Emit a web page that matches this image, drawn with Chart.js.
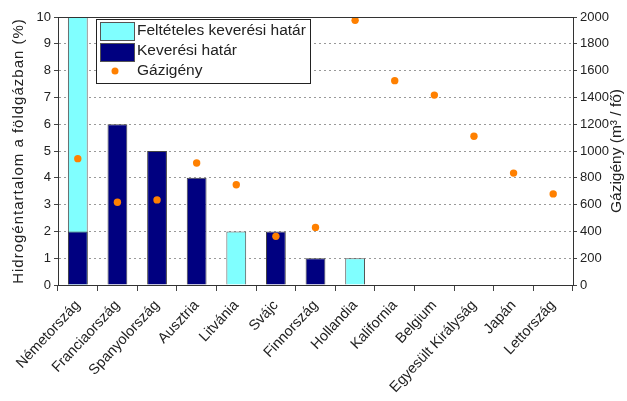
<!DOCTYPE html>
<html>
<head>
<meta charset="utf-8">
<script src="https://cdn.jsdelivr.net/npm/chart.js@4.4.0/dist/chart.umd.min.js"></script>
<style>
body { margin: 0; background: #fff; }
</style>
</head>
<body>
<canvas id="grafik" width="627" height="401"></canvas>
<script>
const orszagok = ['Németország', 'Franciaország', 'Spanyolország', 'Ausztria', 'Litvánia', 'Svájc',
    'Finnország', 'Hollandia', 'Kalifornia', 'Belgium', 'Egyesült Királyság', 'Japán', 'Lettország'];
const feltetelesHatar = [10, null, null, null, 2, null, null, 1, null, null, null, null, null]; // %
const keveresiHatar = [2, 6, 5, 4, null, 2, 1, null, null, null, null, null, null]; // %
const gazigeny = [943, 618, 635, 910, 748, 363, 430, 1975, 1525, 1417, 1110, 835, 680]; // m3 / fo

const betu = '"Liberation Sans", Arial, sans-serif';
const szinCian = '#80FFFF';
const szinSotet = '#000080';
const szinNarancs = '#FF8000';

// keret, jelmagyarazat es tengelycimek rajzolasa
const keretPlugin = {
    id: 'keret',
    afterDraw(chart) {
        const ctx = chart.ctx;
        const a = chart.chartArea;
        ctx.save();
        ctx.strokeStyle = '#333';
        ctx.lineWidth = 1;
        ctx.strokeRect(Math.round(a.left) + 0.5, Math.round(a.top) + 0.5,
            Math.round(a.right - a.left), Math.round(a.bottom - a.top));

        // jelmagyarazat
        const lx = a.left + 38, ly = a.top + 2;
        ctx.fillStyle = '#fff';
        ctx.fillRect(lx, ly, 214, 64);
        ctx.strokeStyle = '#222';
        ctx.strokeRect(lx + 0.5, ly + 0.5, 214, 64);
        ctx.fillStyle = szinCian;
        ctx.fillRect(lx + 4, ly + 3, 34, 18);
        ctx.strokeStyle = '#555';
        ctx.strokeRect(lx + 4.5, ly + 3.5, 34, 18);
        ctx.fillStyle = szinSotet;
        ctx.fillRect(lx + 4, ly + 24, 34, 18);
        ctx.strokeRect(lx + 4.5, ly + 24.5, 34, 18);
        ctx.fillStyle = szinNarancs;
        ctx.beginPath();
        ctx.arc(lx + 19, ly + 52, 3.5, 0, Math.PI * 2);
        ctx.fill();
        ctx.fillStyle = '#222';
        ctx.font = '15.5px ' + betu;
        ctx.textBaseline = 'middle';
        ctx.textAlign = 'left';
        ctx.fillText('Feltételes keverési határ', lx + 41, ly + 12);
        ctx.fillText('Keverési határ', lx + 41, ly + 32);
        ctx.fillText('Gázigény', lx + 41, ly + 52);

        // tengelycimek
        ctx.font = '15px ' + betu;
        ctx.textAlign = 'center';
        ctx.save();
        ctx.letterSpacing = '1px';
        ctx.translate(19, (a.top + a.bottom) / 2);
        ctx.rotate(-Math.PI / 2);
        ctx.fillText('Hidrogéntartalom a földgázban (%)', 0, 0);
        ctx.restore();
        ctx.save();
        ctx.font = '15.5px ' + betu;
        ctx.translate(617, (a.top + a.bottom) / 2);
        ctx.rotate(-Math.PI / 2);
        ctx.fillText('Gázigény (m³ / fő)', 0, 0);
        ctx.restore();
        ctx.restore();
    }
};

const ctx = document.getElementById('grafik').getContext('2d');

const grafik = new Chart(ctx, {
    type: 'bar',
    data: {
        labels: orszagok,
        datasets: [{
            type: 'line',
            label: 'Gázigény',
            data: gazigeny,
            yAxisID: 'y2',
            showLine: false,
            pointRadius: 3.7,
            pointBackgroundColor: szinNarancs,
            pointBorderWidth: 0,
            order: 0
        }, {
            label: 'Keverési határ',
            data: keveresiHatar,
            backgroundColor: szinSotet,
            borderColor: '#444',
            borderWidth: 1,
            grouped: false,
            barPercentage: 0.5,
            categoryPercentage: 1,
            order: 1
        }, {
            label: 'Feltételes keverési határ',
            data: feltetelesHatar,
            backgroundColor: szinCian,
            borderColor: '#555',
            borderWidth: 1,
            grouped: false,
            barPercentage: 0.5,
            categoryPercentage: 1,
            order: 2
        }]
    },
    options: {
        responsive: false,
        animation: false,
        layout: { padding: { top: 17, left: 0, right: 0, bottom: 0 } },
        plugins: {
            legend: { display: false },
            tooltip: { enabled: false }
        },
        scales: {
            x: {
                grid: { drawOnChartArea: false, drawTicks: true, tickLength: 6, color: '#444' },
                border: { color: '#333' },
                ticks: {
                    color: '#222',
                    font: { family: betu, size: 14.5 },
                    minRotation: 47,
                    maxRotation: 47,
                    autoSkip: false,
                    padding: 6
                },
                afterFit(scale) { scale.height = 116; }
            },
            y: {
                position: 'left',
                min: 0,
                max: 10,
                ticks: { stepSize: 1, color: '#222', font: { family: betu, size: 13 }, padding: 3 },
                grid: { color: '#999', tickColor: '#444', tickLength: 4 },
                border: { color: '#333', dash: [2, 3] },
                afterFit(scale) { scale.width = 58; }
            },
            y2: {
                position: 'right',
                min: 0,
                max: 2000,
                ticks: {
                    stepSize: 200,
                    color: '#222',
                    font: { family: betu, size: 13 },
                    padding: 3,
                    callback: (v) => String(v)
                },
                grid: { drawOnChartArea: false, tickColor: '#444', tickLength: 4 },
                border: { color: '#333' },
                afterFit(scale) { scale.width = 54; }
            }
        }
    },
    plugins: [keretPlugin]
});
</script>
</body>
</html>
